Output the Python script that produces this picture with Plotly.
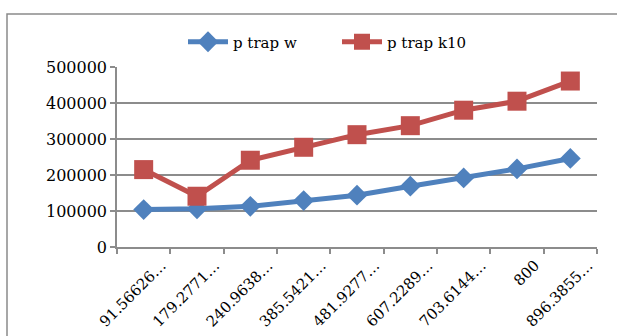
import plotly.graph_objects as go

categories = ["91.56626…", "179.2771…", "240.9638…", "385.5421…", "481.9277…",
              "607.2289…", "703.6144…", "800", "896.3855…"]
p_trap_w = [104000, 106000, 113000, 129000, 144000, 169000, 192000, 217000, 246000]
p_trap_k10 = [215000, 141000, 241000, 277000, 312000, 337000, 380000, 405000, 461000]

FONT = "DejaVu Serif"
GRID = "#8c8c8c"

fig = go.Figure()
fig.add_trace(go.Scatter(
    x=categories, y=p_trap_w, name="p trap w", mode="lines+markers",
    line=dict(color="#4F81BD", width=5),
    marker=dict(symbol="diamond", size=16, color="#4F81BD"),
))
fig.add_trace(go.Scatter(
    x=categories, y=p_trap_k10, name="p trap k10", mode="lines+markers",
    line=dict(color="#C0504D", width=5),
    marker=dict(symbol="square", size=19, color="#C0504D"),
))

fig.update_layout(
    width=617, height=336,
    margin=dict(l=117, r=20, t=67, b=89, autoexpand=False),
    paper_bgcolor="white", plot_bgcolor="white",
    font=dict(family=FONT, size=15, color="black"),
    showlegend=True,
    legend=dict(orientation="h", x=(183 - 117) / 480, xanchor="left", y=(247 - 42) / 180,
                yanchor="middle", entrywidth=99,
                font=dict(family=FONT, size=15, color="black"),
                itemwidth=40, bgcolor="rgba(0,0,0,0)"),
    xaxis=dict(type="category", range=[-0.5, 8.5], tickangle=-45, automargin=False,
               showline=True, linecolor=GRID, linewidth=1.5,
               ticks="outside", ticklen=5, tickcolor=GRID, tickwidth=1.5,
               tickson="boundaries", showgrid=False, ticklabelshift=18,
               ticklabelstandoff=2,
               tickfont=dict(family=FONT, size=15, color="black")),
    yaxis=dict(range=[0, 500000], dtick=100000, tickformat="d", automargin=False,
               showline=True, linecolor=GRID, linewidth=1.5,
               ticks="outside", ticklen=5, tickcolor=GRID, tickwidth=1.5,
               showgrid=True, gridcolor=GRID, gridwidth=1.5, zeroline=False,
               tickfont=dict(family=FONT, size=16, color="black")),
    shapes=[dict(type="rect", xref="paper", yref="paper",
                 x0=(7 - 117) / 480, x1=(640 - 117) / 480,
                 y0=(247 - 360) / 180, y1=(247 - 14) / 180,
                 line=dict(color="#8a8a8a", width=1.5), fillcolor="rgba(0,0,0,0)",
                 layer="below")],
)

fig.write_html("out.html", config={"displayModeBar": False},
               post_script="document.body.style.margin='0';document.body.style.overflow='hidden';")
